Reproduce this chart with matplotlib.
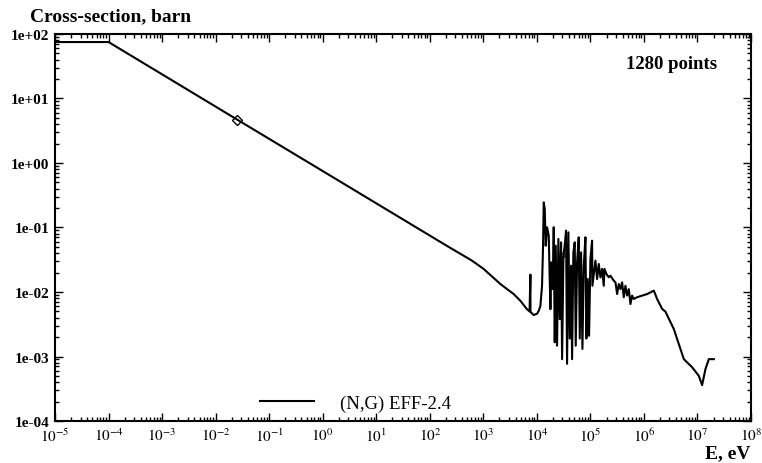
import matplotlib.pyplot as plt
from matplotlib.ticker import LogLocator, FixedLocator, NullFormatter

# (N,G) cross-section, EFF-2.4
energy = [1e-5, 1e-4, 0.0253, 1.0, 10.0, 100.0, 200.0, 600.0, 1000.0, 1500.0,
          2080, 2770, 3690, 4920, 6550, 7300, 7570, 7600, 8730,
          1.007e4, 1.083e4, 1.163e4, 1.249e4, 1.305e4, 1.343e4,
          1.403e4, 1.463e4, 1.549e4, 1.664e4, 1.738e4, 1.790e4, 1.866e4, 1.977e4,
          2.065e4, 2.157e4, 2.250e4, 2.383e4, 2.523e4, 2.673e4, 2.831e4, 2.958e4,
          3.133e4, 3.311e4, 3.508e4, 3.664e4, 3.881e4, 4.111e4, 4.355e4, 4.550e4,
          4.808e4, 5.093e4, 5.321e4, 5.636e4, 6.053e4, 6.324e4, 6.699e4, 7.096e4,
          7.516e4, 8.072e4, 8.414e4, 8.913e4, 9.441e4, 1.0e5, 1.074e5, 1.09e5,
          1.242e5, 1.334e5, 1.432e5, 1.538e5, 1.652e5, 1.775e5, 1.828e5, 1.991e5,
          2.203e5, 2.366e5, 2.729e5, 2.938e5, 3.155e5, 3.388e5, 3.639e5, 3.908e5,
          4.198e5, 4.508e5, 4.853e5, 5.212e5, 5.598e5, 6.012e5, 6.457e5, 7.447e5,
          1.15e6, 1.53e6, 1.76e6, 2.19e6, 2.52e6, 3.61e6, 5.56e6, 7.96e6,
          1.06e7, 1.22e7, 1.41e7, 1.63e7, 2.02e7]
sigma = [75, 75, 4.7, 0.75, 0.237, 0.075, 0.053, 0.031, 0.023, 0.017,
         0.0133, 0.0111, 0.0093, 0.0073, 0.0054, 0.0050, 0.0186, 0.0049, 0.0044,
         0.0046, 0.0051, 0.0061, 0.0125, 0.0522, 0.245,
         0.194, 0.0522, 0.101, 0.0747, 0.0159, 0.0054, 0.0288, 0.0111,
         0.101, 0.00166, 0.0522, 0.00147, 0.0664, 0.0038, 0.0589, 0.00091,
         0.0366, 0.0522, 0.0893, 0.00077, 0.0841, 0.0019, 0.0256, 0.00091,
         0.0412, 0.0589, 0.00147, 0.0288, 0.0705, 0.0019, 0.0412, 0.00131,
         0.0256, 0.0705, 0.0019, 0.0159, 0.0021, 0.0325, 0.0625, 0.0125,
         0.0306, 0.0159, 0.0272, 0.0169, 0.0228, 0.0125, 0.0228, 0.0190,
         0.0169, 0.0179, 0.0150, 0.0141, 0.0093, 0.0133, 0.0111, 0.0141,
         0.0083, 0.0125, 0.0088, 0.0111, 0.0065, 0.0088, 0.0078, 0.0083,
         0.0093, 0.0105, 0.0078, 0.00546, 0.00496, 0.00267, 0.00091, 0.00068,
         0.0005, 0.00036, 0.00064, 0.00091, 0.00091]

# small markers on the curve
mark_e = [0.0253]
mark_s = [4.64]
circ_e = [2.95e4]
circ_s = [0.037]

x_ticks = [10.0 ** k for k in range(-5, 9)]
x_labels = ["$10^{%d}$" % k for k in range(-5, 9)]
y_ticks = [1e-4, 1e-3, 1e-2, 1e-1, 1e0, 1e1, 1e2]
y_labels = ["1e-04", "1e-03", "1e-02", "1e-01", "1e+00", "1e+01", "1e+02"]

plt.rcParams['mathtext.fontset'] = 'stix'
serif = 'Liberation Serif'

fig = plt.figure(figsize=(7.62, 4.64), dpi=100)
ax = fig.add_axes([0.0722, 0.0905, 0.9134, 0.8341])

ax.plot(energy, sigma, color="black", lw=1.5, label="(N,G) EFF-2.4")
ax.plot(mark_e, mark_s, linestyle="none", marker="D", ms=5, mfc="none", mec="black", mew=1)
ax.plot(circ_e, circ_s, linestyle="none", marker="o", ms=3.5, mfc="none", mec="black", mew=0.8)

ax.set_xscale("log")
ax.set_yscale("log")
ax.set_xlim(1e-5, 1e8)
ax.set_ylim(1e-4, 1e2)

ax.xaxis.set_major_locator(FixedLocator(x_ticks))
ax.set_xticklabels(x_labels, fontsize=11)
ax.xaxis.set_minor_locator(LogLocator(base=10, subs=range(2, 10), numticks=100))
ax.xaxis.set_minor_formatter(NullFormatter())
ax.yaxis.set_major_locator(FixedLocator(y_ticks))
ax.set_yticklabels(y_labels, fontsize=11, fontweight="bold", family=serif)
ax.yaxis.set_minor_locator(LogLocator(base=10, subs=range(2, 10), numticks=100))
ax.yaxis.set_minor_formatter(NullFormatter())

ax.tick_params(which="both", direction="in", top=True, right=True, width=1)
ax.tick_params(which="major", length=6)
ax.tick_params(axis="x", which="major", pad=4)
ax.tick_params(axis="y", which="major", pad=4)
ax.tick_params(which="minor", length=3)
for s in ax.spines.values():
    s.set_linewidth(1.5)

leg = ax.legend(loc="lower left", bbox_to_anchor=(0.27, -0.02), frameon=False,
                handlelength=2.9, handletextpad=1.4,
                prop={"family": serif, "size": 13.5})

fig.text(0.039, 0.963, "Cross-section, barn", family=serif, fontweight="bold",
         fontsize=14, ha="left", va="center")
ax.text(0.82, 0.925, "1280 points", transform=ax.transAxes, family=serif,
        fontweight="bold", fontsize=13.5, ha="left", va="center")
fig.text(0.985, 0.022, "E, eV", family=serif, fontweight="bold",
         fontsize=14, ha="right", va="center")

fig.savefig("out.png", dpi=100)
